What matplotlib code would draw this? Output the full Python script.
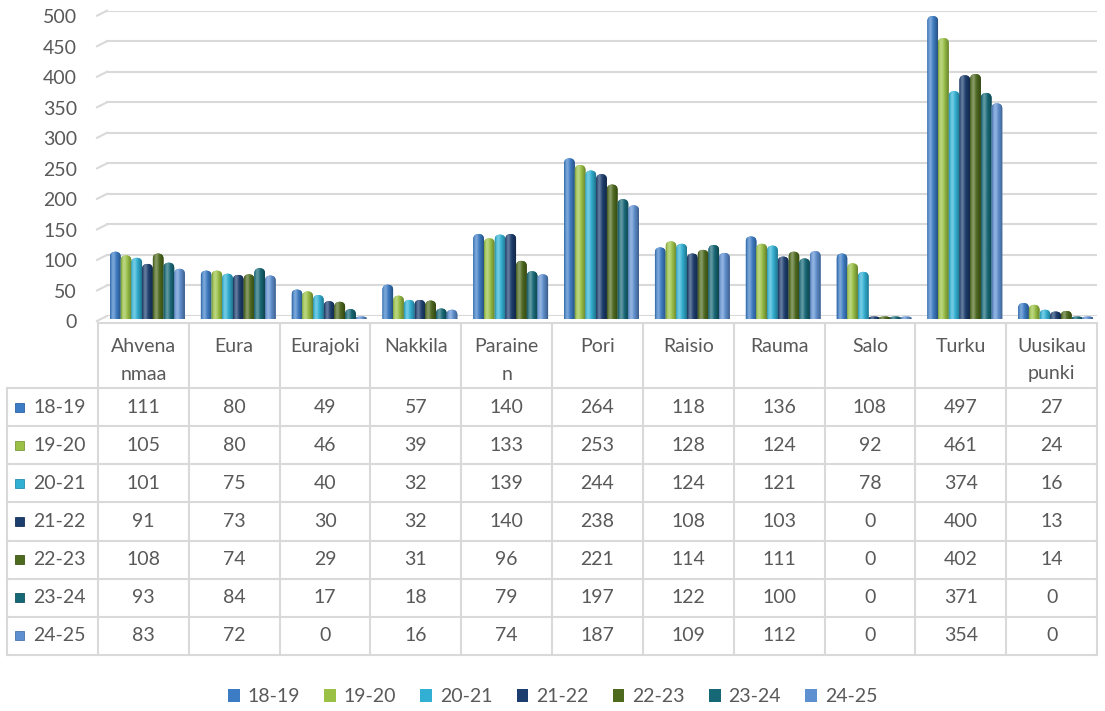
import numpy as np
import matplotlib
matplotlib.use('Agg')
import matplotlib.pyplot as plt
import matplotlib.colors as mcolors
import matplotlib.transforms as mtransforms
from matplotlib.path import Path
from matplotlib.patches import PathPatch, Rectangle
from matplotlib.lines import Line2D

plt.rcParams['font.family'] = ['Lato', 'DejaVu Sans']

# Data
categories = ['Ahvenanmaa', 'Eura', 'Eurajoki', 'Nakkila', 'Parainen', 'Pori',
              'Raisio', 'Rauma', 'Salo', 'Turku', 'Uusikaupunki']
header_labels = ['Ahvena\nnmaa', 'Eura', 'Eurajoki', 'Nakkila', 'Paraine\nn', 'Pori',
                 'Raisio', 'Rauma', 'Salo', 'Turku', 'Uusikau\npunki']
seasons = ['18-19', '19-20', '20-21', '21-22', '22-23', '23-24', '24-25']
v_18_19 = [111, 80, 49, 57, 140, 264, 118, 136, 108, 497, 27]
v_19_20 = [105, 80, 46, 39, 133, 253, 128, 124, 92, 461, 24]
v_20_21 = [101, 75, 40, 32, 139, 244, 124, 121, 78, 374, 16]
v_21_22 = [91, 73, 30, 32, 140, 238, 108, 103, 0, 400, 13]
v_22_23 = [108, 74, 29, 31, 96, 221, 114, 111, 0, 402, 14]
v_23_24 = [93, 84, 17, 18, 79, 197, 122, 100, 0, 371, 0]
v_24_25 = [83, 72, 0, 16, 74, 187, 109, 112, 0, 354, 0]
values = [v_18_19, v_19_20, v_20_21, v_21_22, v_22_23, v_23_24, v_24_25]
colors = ['#3C7CC4', '#9AC146', '#31B0D4', '#1C3E6E', '#4E6A1E', '#176877', '#5E8FD0']
y_ticks = list(range(0, 501, 50))

text_col = '#595959'
line_col = '#D9D9D9'
fs = 14

W, H = 1105, 711
fig = plt.figure(figsize=(W / 100, H / 100), dpi=100)
# pixel coords measured from top-left of the figure
T = mtransforms.Affine2D().scale(1 / W, -1 / H).translate(0, 1) + fig.transFigure

left_px, right_px = 98, 1097
top_px, bottom_px = 10.7, 316
px_x = (right_px - left_px) / len(categories)
px_y = (bottom_px - top_px) / 500

# back wall (gridlines)
ax = fig.add_axes([left_px / W, 1 - bottom_px / H,
                   (right_px - left_px) / W, (bottom_px - top_px) / H])
ax.set_xlim(-0.5, len(categories) - 0.5)
ax.set_ylim(0, 500)
ax.axis('off')

# bars sit a bit lower (front of the 3D floor)
shift = 3.5
axb = fig.add_axes([left_px / W, 1 - (bottom_px + shift) / H,
                    (right_px - left_px) / W, (bottom_px - top_px) / H])
axb.axis('off')


def ypx(v):
    return bottom_px - v * px_y


# gridlines with small 3D slant at the left
for v in y_ticks:
    ax.axhline(v, xmin=9 / (right_px - left_px), xmax=1, color=line_col, lw=1.5, zorder=0)
    fig.add_artist(Line2D([97, 107], [ypx(v) + 5, ypx(v)], transform=T,
                          color=line_col, lw=1.5))
    fig.text(77, ypx(v) + 7, str(v), transform=T, ha='right', va='center',
             fontsize=fs, color=text_col)


def bar_path(x0, w, h, rx, ry):
    x1 = x0 + w
    ry = min(ry, h / 2)
    verts = [(x0, 0), (x1, 0), (x1, h - ry), (x1, h), (x1 - rx, h),
             (x0 + rx, h), (x0, h), (x0, h - ry), (x0, 0)]
    codes = [Path.MOVETO, Path.LINETO, Path.LINETO, Path.CURVE3, Path.CURVE3,
             Path.LINETO, Path.CURVE3, Path.CURVE3, Path.CLOSEPOLY]
    return Path(verts, codes)


def shade_img(color):
    c = np.array(mcolors.to_rgb(color))
    t = np.linspace(0, 1, 48)
    light = 0.32 * np.exp(-((t - 0.3) / 0.2) ** 2)
    dark = 0.35 * np.clip((t - 0.45) / 0.55, 0, 1) ** 1.5 + 0.2 * np.clip((0.12 - t) / 0.12, 0, 1)
    base = c[None, :] * (1 - dark[:, None])
    out = base + (1 - base) * light[:, None]
    return out[None, :, :]


bw = 10.7 / px_x
start = 12 / px_x
rx = bw / 2
ry = 5 / px_y
min_h = 3 / px_y
for j, season in enumerate(seasons):
    img = shade_img(colors[j])
    for i, v in enumerate(values[j]):
        x0 = i - 0.5 + start + j * bw
        h = max(v, min_h)
        patch = PathPatch(bar_path(x0, bw, h, rx, ry), facecolor=colors[j],
                          edgecolor='none', zorder=3)
        axb.add_patch(patch)
        im = axb.imshow(img, extent=(x0, x0 + bw, 0, h), aspect='auto',
                        interpolation='bilinear', zorder=3)
        im.set_clip_path(patch)
axb.set_xlim(-0.5, len(categories) - 0.5)
axb.set_ylim(0, 500)

# data table
tab_top, head_bot = 323, 388
row_h = (655 - 388) / len(seasons)
tab_bot = head_bot + row_h * len(seasons)
lw_t = 1.5
fig.add_artist(Line2D([left_px, right_px], [tab_top, tab_top], transform=T, color=line_col, lw=lw_t))
for k in range(len(seasons) + 1):
    yy = head_bot + k * row_h
    fig.add_artist(Line2D([7, right_px], [yy, yy], transform=T, color=line_col, lw=lw_t))
fig.add_artist(Line2D([7, 7], [head_bot, tab_bot], transform=T, color=line_col, lw=lw_t))
for i in range(len(categories) + 1):
    xx = left_px + i * px_x
    fig.add_artist(Line2D([xx, xx], [tab_top, tab_bot], transform=T, color=line_col, lw=lw_t))

for i, lab in enumerate(header_labels):
    fig.text(left_px + (i + 0.5) * px_x, 338, lab, transform=T, ha='center', va='top',
             fontsize=fs, color=text_col, linespacing=1.75)

for j, season in enumerate(seasons):
    yc = head_bot + (j + 0.5) * row_h
    fig.add_artist(Rectangle((15, yc - 4.5), 9, 9, transform=T, facecolor=colors[j],
                             edgecolor=mcolors.to_hex(np.array(mcolors.to_rgb(colors[j])) * 0.8),
                             lw=0.6))
    fig.text(33, yc, season, transform=T, ha='left', va='center', fontsize=fs, color=text_col)
    for i, v in enumerate(values[j]):
        fig.text(left_px + (i + 0.5) * px_x, yc, str(v), transform=T, ha='center',
                 va='center', fontsize=fs, color=text_col)

# legend
handles = [Rectangle((0, 0), 1, 1, facecolor=c, edgecolor='none') for c in colors]
fig.legend(handles, seasons, loc='center', bbox_to_anchor=(0.5, 1 - 697 / H), ncol=7,
           frameon=False, fontsize=fs, handlelength=0.6, handleheight=0.6,
           handletextpad=0.4, columnspacing=1.25, labelcolor=text_col)

fig.savefig('out.png', dpi=100)
